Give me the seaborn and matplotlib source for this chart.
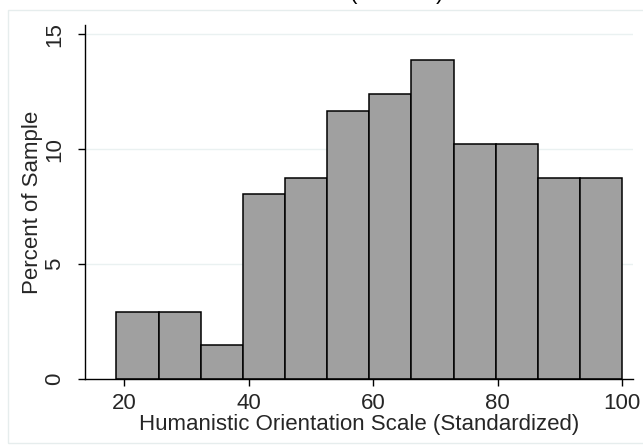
import numpy as np
import pandas as pd
import matplotlib
matplotlib.use("Agg")
import matplotlib.pyplot as plt
import seaborn as sns
from matplotlib.patches import Rectangle

# histogram of the standardized humanistic orientation score (N = 137)
bin_mid = [22.1, 28.9, 35.7, 42.5, 49.2, 56.0, 62.8, 69.6, 76.4, 83.2, 89.9, 96.7]
pct_sample = [2.92, 2.92, 1.46, 8.03, 8.76, 11.68, 12.41, 13.87, 10.22, 10.22, 8.76, 8.76]
x_ticks = [20, 40, 60, 80, 100]
y_ticks = [0, 5, 10, 15]

df = pd.DataFrame({"score": bin_mid, "pct": pct_sample})

sns.set_style("white")
plt.rcParams["font.family"] = ["Liberation Sans", "DejaVu Sans"]

fig = plt.figure(figsize=(6.43, 4.45), dpi=100)
ax = fig.add_axes([85 / 643, 66 / 445, (632.7 - 85) / 643, (379 - 25) / 445])

# light outer frame (graph region)
fig.patches.append(Rectangle((8 / 643, 2 / 445), 1.2, (435 - 2) / 445, transform=fig.transFigure,
                             fill=False, edgecolor="#e6eded", linewidth=1.0))

# cropped title at the top edge
fig.text(350 / 643, 1.0 + 1 / 445, "(N = 137)", ha="left", va="baseline", fontsize=16, color="black")

for v in y_ticks[1:]:
    ax.axhline(v, color="#eaf1f1", linewidth=1.0, zorder=0)

sns.histplot(data=df, x="score", weights="pct", bins=12, binrange=(18.75, 100),
             color="#a0a0a0", edgecolor="black", linewidth=1.1, alpha=1, ax=ax, zorder=2)

ax.set_xlim(13.7, 101.7)
ax.set_ylim(0, 15.4)
ax.set_xticks(x_ticks)
ax.set_yticks(y_ticks)
ax.set_yticklabels([str(t) for t in y_ticks], rotation=90, va="center")

for s in ["top", "right"]:
    ax.spines[s].set_visible(False)
for s in ["left", "bottom"]:
    ax.spines[s].set_color("black")
    ax.spines[s].set_linewidth(1.0)

ax.tick_params(axis="both", which="both", direction="out", length=5, width=1.0, color="black",
               labelsize=16, bottom=True, left=True)
ax.tick_params(axis="x", pad=5)
ax.tick_params(axis="y", pad=9)

ax.set_xlabel("Humanistic Orientation Scale (Standardized)", fontsize=16, labelpad=0)
ax.set_ylabel("Percent of Sample", fontsize=16, labelpad=1)

fig.savefig("out.png", dpi=100)
